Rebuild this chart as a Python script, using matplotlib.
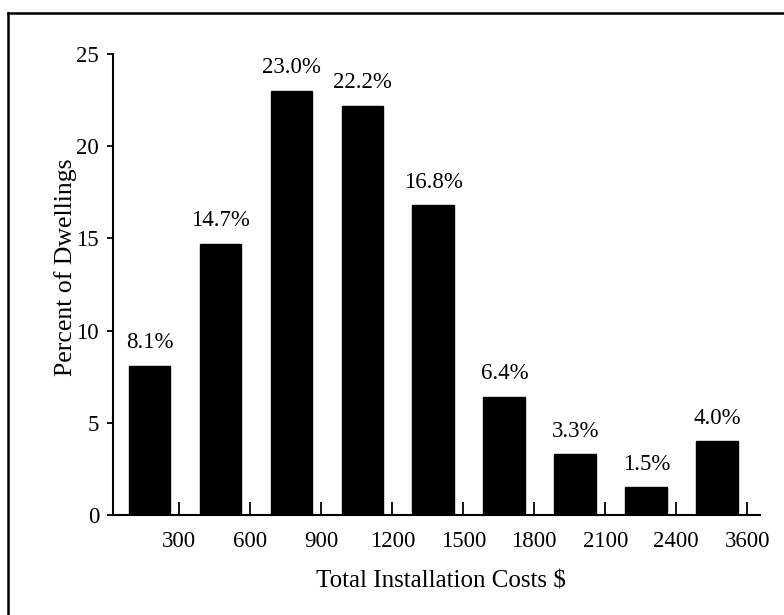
import matplotlib
matplotlib.use('Agg')
import matplotlib.pyplot as plt
from matplotlib.lines import Line2D

# values
cost_ticks = ['300', '600', '900', '1200', '1500', '1800', '2100', '2400', '3600']
pct_dwellings = [8.1, 14.7, 23.0, 22.2, 16.8, 6.4, 3.3, 1.5, 4.0]
y_ticks = [0, 5, 10, 15, 20, 25]

plt.rcParams['font.family'] = ['Liberation Serif', 'DejaVu Serif']
plt.rcParams['font.size'] = 16.5

fig = plt.figure(figsize=(7.84, 6.15), dpi=100)
ax = fig.add_axes([0.1441, 0.1626, 0.8253, 0.7496])

x = list(range(len(pct_dwellings)))
ax.bar(x, pct_dwellings, width=0.59, color='black', edgecolor='black')

for xi, v in zip(x, pct_dwellings):
    ax.annotate(f'{v:.1f}%', (xi, v), xytext=(0, 9), textcoords='offset points',
                ha='center', va='bottom', fontsize=16.5)

ax.set_xlim(-0.514, 8.6)
ax.set_ylim(0, 25)
ax.set_yticks(y_ticks)
ax.set_xticks([xi + 0.42 for xi in x])
ax.set_xticklabels(cost_ticks)

ax.spines['top'].set_visible(False)
ax.spines['right'].set_visible(False)
ax.spines['left'].set_linewidth(1.5)
ax.spines['bottom'].set_linewidth(1.5)
ax.tick_params(axis='x', direction='in', length=9.5, width=1.3, pad=11.5)
ax.tick_params(axis='y', direction='out', length=4, width=1.3, pad=6)

ax.set_xlabel('Total Installation Costs $', fontsize=18)
ax.set_ylabel('Percent of Dwellings', fontsize=18.5)
ax.xaxis.set_label_coords(0.507, -0.145)
ax.xaxis.label.set_va('center')
ax.yaxis.set_label_coords(-0.0726, 0.538)
ax.yaxis.label.set_va('center')

# outer frame (top and left edges visible in the scan)
fig.add_artist(Line2D([8 / 784, 8 / 784], [0, 1 - 13 / 615], color='black', lw=1.8,
                      transform=fig.transFigure))
fig.add_artist(Line2D([8 / 784, 1], [1 - 13 / 615, 1 - 13 / 615], color='black', lw=1.8,
                      transform=fig.transFigure))

fig.savefig('out.png', dpi=100)
